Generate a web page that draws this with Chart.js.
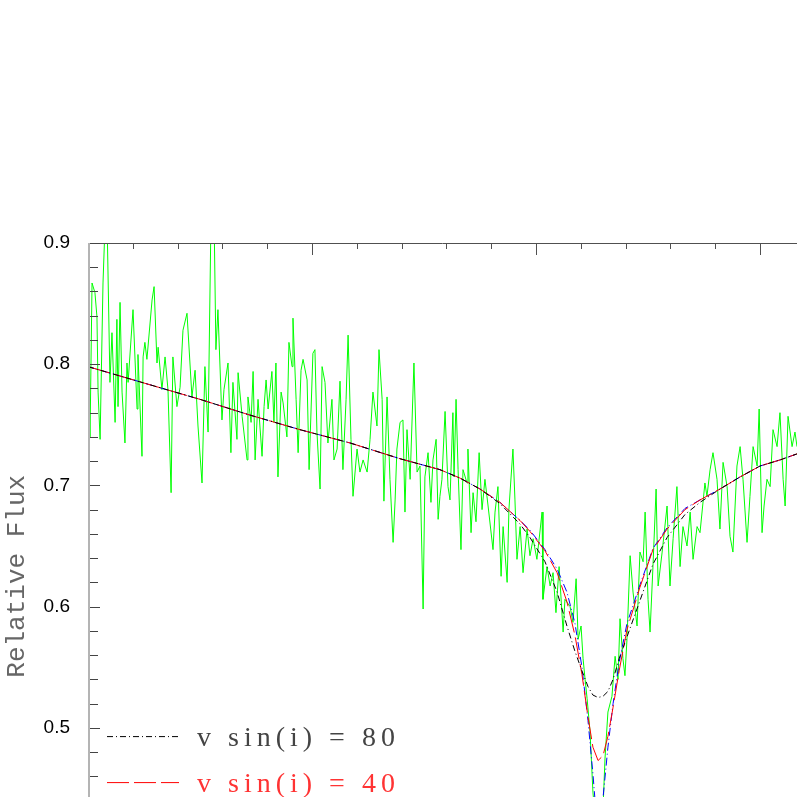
<!DOCTYPE html>
<html>
<head>
<meta charset="utf-8">
<script src="https://cdn.jsdelivr.net/npm/chart.js@4.4.0/dist/chart.umd.min.js"></script>
<style>
  html, body { margin: 0; padding: 0; overflow: hidden; background: #fff; }
</style>
</head>
<body>
<canvas id="spec" width="797" height="939"></canvas>
<script>
// observed spectrum (green), wavelength offset and relative flux
var waveObs = [
  0, 0.09, 0.18, 0.31, 0.40, 0.45, 0.54, 0.67, 0.76, 0.85,
  0.98, 1.07, 1.21, 1.29, 1.34, 1.43, 1.52, 1.65, 1.74, 1.79,
  2.01, 2.19, 2.23, 2.41, 2.46, 2.54, 2.63, 2.86, 2.95, 3.08,
  3.13, 3.30, 3.44, 3.57, 3.71, 3.79, 3.97, 4.11, 4.24, 4.42,
  4.64, 4.78, 4.91, 5.09, 5.22, 5.36, 5.49, 5.63, 5.71, 5.80,
  5.98, 6.07, 6.25, 6.38, 6.47, 6.65, 6.70, 6.88, 7.10, 7.14,
  7.28, 7.37, 7.46, 7.59, 7.77, 7.86, 7.95, 8.04, 8.21, 8.30,
  8.39, 8.48, 8.62, 8.71, 8.88, 8.97, 9.11, 9.15, 9.29, 9.38,
  9.51, 9.60, 9.78, 9.87, 10.04, 10.13, 10.22, 10.36, 10.45, 10.58,
  10.71, 10.89, 10.98, 11.12, 11.25, 11.38, 11.52, 11.61, 11.74, 11.83,
  12.01, 12.14, 12.28, 12.46, 12.59, 12.72, 12.90, 12.99, 13.13, 13.21,
  13.35, 13.48, 13.62, 13.71, 13.79, 13.93, 14.06, 14.15, 14.24, 14.38,
  14.55, 14.69, 14.82, 14.96, 15.04, 15.18, 15.31, 15.40, 15.54, 15.63,
  15.71, 15.80, 15.94, 16.07, 16.16, 16.29, 16.34, 16.43, 16.52, 16.65,
  16.74, 16.92, 16.96, 17.10, 17.19, 17.32, 17.46, 17.59, 17.72, 17.86,
  18.08, 18.17, 18.30, 18.44, 18.53, 18.71, 18.79, 18.97, 19.06, 19.15,
  19.29, 19.42, 19.60, 19.73, 19.87, 20.04, 20.27, 20.31, 20.49, 20.63,
  20.76, 20.89, 21.03, 21.21, 21.29, 21.52, 21.65, 21.79, 21.88, 22.01,
  22.10, 22.19, 22.28, 22.41, 22.54, 22.68, 22.86, 22.99, 23.08, 23.21,
  23.39, 23.53, 23.66, 23.75, 23.88, 23.97, 24.06, 24.20, 24.33, 24.51,
  24.64, 24.78, 24.87, 25.00, 25.09, 25.22, 25.36, 25.45, 25.63, 25.85,
  25.98, 26.12, 26.29, 26.43, 26.56, 26.74, 26.88, 27.01, 27.19, 27.32,
  27.54, 27.63, 27.77, 27.90, 28.08, 28.21, 28.35, 28.53, 28.66, 28.79,
  28.97, 29.11, 29.24, 29.42, 29.55, 29.69, 29.87, 29.96, 30.09, 30.18,
  30.31, 30.45, 30.58, 30.76, 30.89, 31.03, 31.12, 31.25, 31.43, 31.56,
  31.65
];
var fluxObs = [
  0.804, 0.740, 0.867, 0.859, 0.839, 0.777, 0.738, 0.867, 0.915, 0.920,
  0.785, 0.826, 0.752, 0.837, 0.765, 0.851, 0.777, 0.735, 0.801, 0.785,
  0.845, 0.763, 0.808, 0.724, 0.806, 0.818, 0.804, 0.853, 0.864, 0.801,
  0.814, 0.779, 0.806, 0.779, 0.694, 0.806, 0.765, 0.781, 0.828, 0.842,
  0.773, 0.795, 0.749, 0.702, 0.798, 0.744, 0.920, 0.920, 0.812, 0.845,
  0.754, 0.779, 0.801, 0.727, 0.785, 0.738, 0.793, 0.757, 0.721, 0.773,
  0.752, 0.794, 0.721, 0.771, 0.724, 0.765, 0.787, 0.763, 0.794, 0.752,
  0.801, 0.707, 0.777, 0.768, 0.740, 0.818, 0.798, 0.838, 0.771, 0.727,
  0.795, 0.804, 0.787, 0.713, 0.809, 0.812, 0.744, 0.697, 0.798, 0.785,
  0.735, 0.771, 0.721, 0.730, 0.786, 0.713, 0.771, 0.824, 0.738, 0.691,
  0.730, 0.711, 0.721, 0.711, 0.738, 0.777, 0.749, 0.812, 0.771, 0.687,
  0.773, 0.705, 0.653, 0.688, 0.730, 0.752, 0.754, 0.678, 0.746, 0.705,
  0.801, 0.711, 0.716, 0.598, 0.707, 0.727, 0.686, 0.721, 0.738, 0.672,
  0.691, 0.705, 0.761, 0.699, 0.688, 0.760, 0.707, 0.771, 0.713, 0.647,
  0.713, 0.702, 0.730, 0.661, 0.694, 0.670, 0.727, 0.680, 0.705, 0.683,
  0.647, 0.678, 0.699, 0.625, 0.666, 0.620, 0.680, 0.730, 0.688, 0.639,
  0.666, 0.628, 0.664, 0.642, 0.656, 0.639, 0.678, 0.606, 0.633, 0.617,
  0.628, 0.595, 0.633, 0.579, 0.606, 0.600, 0.587, 0.623, 0.573, 0.584,
  0.557, 0.540, 0.524, 0.497, 0.447, 0.417, 0.409, 0.433, 0.475, 0.513,
  0.526, 0.559, 0.540, 0.590, 0.557, 0.543, 0.573, 0.642, 0.612, 0.584,
  0.645, 0.637, 0.678, 0.606, 0.579, 0.633, 0.697, 0.617, 0.645, 0.683,
  0.617, 0.656, 0.699, 0.633, 0.666, 0.650, 0.678, 0.639, 0.666, 0.661,
  0.702, 0.691, 0.713, 0.727, 0.705, 0.664, 0.719, 0.699, 0.658, 0.645,
  0.716, 0.732, 0.705, 0.653, 0.691, 0.732, 0.716, 0.763, 0.661, 0.683,
  0.705, 0.699, 0.746, 0.732, 0.760, 0.705, 0.683, 0.757, 0.732, 0.744,
  0.732
];

// synthetic profiles on a common wavelength grid
var waveModel = [0, 2.77, 5.00, 7.23, 9.46, 11.70, 13.93, 15.71, 16.61, 17.50,
  18.39, 19.29, 19.73, 20.40, 20.94, 21.38, 21.74, 22.05, 22.32, 22.54,
  22.77, 22.99, 23.21, 23.44, 23.71, 24.06, 24.64, 25.22, 25.85, 26.65,
  27.32, 28.21, 29.11, 30.00, 30.89, 31.65];
var flux80 = [0.798, 0.783, 0.771, 0.758, 0.746, 0.735, 0.722, 0.713, 0.706, 0.697,
  0.685, 0.668, 0.657, 0.637, 0.612, 0.584, 0.563, 0.547, 0.534, 0.527,
  0.525, 0.526, 0.530, 0.540, 0.557, 0.575, 0.605, 0.635, 0.657, 0.676,
  0.686, 0.697, 0.707, 0.716, 0.721, 0.726];
var flux40 = [0.798, 0.783, 0.771, 0.758, 0.746, 0.735, 0.722, 0.713, 0.706, 0.697,
  0.686, 0.671, 0.662, 0.646, 0.628, 0.604, 0.576, 0.544, 0.509, 0.484,
  0.473, 0.477, 0.493, 0.517, 0.547, 0.581, 0.616, 0.647, 0.664, 0.680,
  0.688, 0.697, 0.707, 0.716, 0.721, 0.726];
var fluxNarrow = [0.798, 0.783, 0.771, 0.758, 0.746, 0.735, 0.722, 0.713, 0.706, 0.697,
  0.686, 0.671, 0.663, 0.647, 0.631, 0.612, 0.586, 0.550, 0.506, 0.462,
  0.409, 0.442, 0.484, 0.520, 0.554, 0.586, 0.618, 0.648, 0.665, 0.681,
  0.688, 0.697, 0.707, 0.716, 0.721, 0.726];

var yTicks = [0.5, 0.6, 0.7, 0.8, 0.9];

function pairs(xs, ys) {
  var out = [];
  for (var i = 0; i < Math.min(xs.length, ys.length); i++) out.push({ x: xs[i], y: ys[i] });
  return out;
}

// axes with inward ticks, like the original plot
var framePlugin = {
  id: 'frame',
  afterDatasetsDraw: function(chart) {
    var ctx = chart.ctx, a = chart.chartArea;
    var xs = chart.scales.x, ys = chart.scales.y;
    ctx.save();
    ctx.setLineDash([]);
    // top axis
    ctx.strokeStyle = '#505050';
    ctx.lineWidth = 1;
    ctx.beginPath();
    ctx.moveTo(a.left, a.top + 0.5);
    ctx.lineTo(a.right, a.top + 0.5);
    ctx.stroke();
    for (var i = 0; i * 2 <= xs.max; i++) {
      var px = Math.round(xs.getPixelForValue(i * 2)) + 0.5;
      var len = (i % 5 === 0) ? 12 : 6;
      ctx.beginPath();
      ctx.moveTo(px, a.top);
      ctx.lineTo(px, a.top + len);
      ctx.stroke();
    }
    // left axis ticks
    ctx.strokeStyle = '#444';
    for (var j = Math.ceil(ys.min / 0.02); j * 0.02 <= ys.max + 1e-9; j++) {
      var py = Math.round(ys.getPixelForValue(j * 0.02)) + 0.5;
      var l = (j % 5 === 0) ? 12 : 10;
      ctx.beginPath();
      ctx.moveTo(a.left, py);
      ctx.lineTo(a.left + l, py);
      ctx.stroke();
    }
    ctx.strokeStyle = '#b4b4b4';
    ctx.lineWidth = 2;
    ctx.beginPath();
    ctx.moveTo(a.left + 1, a.top);
    ctx.lineTo(a.left + 1, a.bottom);
    ctx.stroke();
    ctx.restore();
  }
};

// legend in the lower left corner of the plot
var legendPlugin = {
  id: 'cornerLegend',
  afterDraw: function(chart) {
    var ctx = chart.ctx, a = chart.chartArea;
    var items = chart.data.datasets.filter(function(d) { return d.inLegend; });
    ctx.save();
    ctx.font = '28px "Liberation Serif"';
    ctx.letterSpacing = '5px';
    ctx.textBaseline = 'alphabetic';
    items.forEach(function(d, i) {
      var y = a.bottom - 173 + i * 46;
      ctx.strokeStyle = d.borderColor;
      ctx.lineWidth = 1;
      ctx.setLineDash(d.borderDash || []);
      ctx.beginPath();
      ctx.moveTo(a.left + 19, y);
      ctx.lineTo(a.left + 91, y);
      ctx.stroke();
      ctx.setLineDash([]);
      ctx.fillStyle = d.legendColor;
      ctx.fillText(d.label, a.left + 109, y + 9);
    });
    ctx.letterSpacing = '0px';
    ctx.restore();
  }
};

new Chart(document.getElementById('spec'), {
  type: 'line',
  data: {
    datasets: [{
      label: 'v sin(i) = 80',
      data: pairs(waveModel, flux80),
      borderColor: '#000000',
      borderDash: [6, 3, 1, 3],
      legendColor: '#444444',
      inLegend: true,
      order: 0
    }, {
      label: 'v sin(i) = 40',
      data: pairs(waveModel, flux40),
      borderColor: '#ff0000',
      borderDash: [22, 5],
      legendColor: '#ff3333',
      inLegend: true,
      order: 1
    }, {
      label: 'narrow profile',
      data: pairs(waveModel, fluxNarrow),
      borderColor: '#0000ff',
      borderDash: [8, 3, 1, 3],
      order: 2
    }, {
      label: 'observed',
      data: pairs(waveObs, fluxObs),
      borderColor: '#00ff00',
      order: 3
    }]
  },
  options: {
    responsive: false,
    animation: false,
    elements: {
      point: { radius: 0 },
      line: { borderWidth: 1, tension: 0, fill: false }
    },
    layout: { padding: { top: 243, bottom: 1, left: 0, right: 0 } },
    plugins: {
      legend: { display: false },
      tooltip: { enabled: false }
    },
    scales: {
      x: { type: 'linear', display: false, min: 0, max: 31.65 },
      y: {
        min: 0.35,
        max: 0.9,
        afterFit: function(scale) { scale.width = 88; },
        afterBuildTicks: function(scale) {
          scale.ticks = yTicks.map(function(v) { return { value: v }; });
        },
        ticks: {
          padding: 18,
          color: '#000',
          font: { family: 'Liberation Sans', size: 19 },
          callback: function(v) { return v.toFixed(1); }
        },
        grid: { display: false, drawTicks: false },
        border: { display: false },
        title: {
          display: true,
          text: 'Relative Flux',
          color: '#666',
          font: { family: '"Liberation Mono", monospace', size: 26 },
          padding: { top: 2, bottom: 0 }
        }
      }
    }
  },
  plugins: [framePlugin, legendPlugin]
});
</script>
</body>
</html>
